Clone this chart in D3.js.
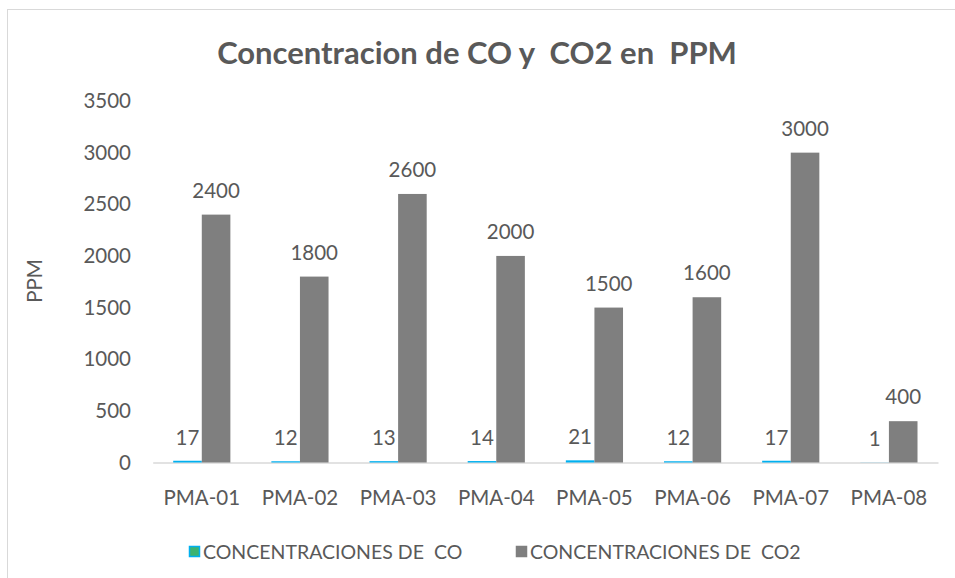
<!DOCTYPE html>
<html>
<head>
<meta charset="utf-8">
<script src="https://cdn.jsdelivr.net/npm/d3@7"></script>
<style>
  html, body { margin: 0; padding: 0; background: #fff; }
  svg { display: block; font-family: Lato, "Open Sans", sans-serif; }
</style>
</head>
<body>
<div id="chart"></div>
<script>
var categories = ['PMA-01', 'PMA-02', 'PMA-03', 'PMA-04', 'PMA-05', 'PMA-06', 'PMA-07', 'PMA-08'];
var coValues = [17, 12, 13, 14, 21, 12, 17, 1];
var co2Values = [2400, 1800, 2600, 2000, 1500, 1600, 3000, 400];
var yTicks = [0, 500, 1000, 1500, 2000, 2500, 3000, 3500];
var seriesNames = ['CONCENTRACIONES DE  CO', 'CONCENTRACIONES DE  CO2'];

function main() {

(function () {
    'use strict';

    var width = 955, height = 578;
    var textColor = '#595959';
    var fontSize = 20.5;

    var svg = d3.select('#chart').append('svg')
        .attr('width', width)
        .attr('height', height);

    // chart area border (only top and left show in the picture)
    svg.append('rect')
        .attr('x', 7.5).attr('y', 9.5)
        .attr('width', width + 20).attr('height', height + 20)
        .attr('fill', '#fff')
        .attr('stroke', '#d9d9d9')
        .attr('stroke-width', 1);

    /*====================================
    Scales
    ======================================*/

    var x = d3.scaleBand()
        .domain(categories)
        .range([152.7, 938])
        .paddingInner(0.4175)
        .paddingOuter(0.2088);

    var x1 = d3.scaleBand()
        .domain(['co', 'co2'])
        .range([0, x.bandwidth()]);

    var y = d3.scaleLinear()
        .domain([0, 3500])
        .range([462.5, 101]);

    /*====================================
    Title
    ======================================*/

    svg.append('text')
        .attr('x', 477)
        .attr('y', 64)
        .attr('text-anchor', 'middle')
        .attr('font-size', 31)
        .attr('font-weight', 'bold')
        .attr('fill', textColor)
        .style('white-space', 'pre')
        .text('Concentracion de CO y  CO2 en  PPM');

    /*====================================
    Axes
    ======================================*/

    var yAxis = svg.append('g')
        .attr('transform', 'translate(131,0)')
        .call(d3.axisLeft(y).tickValues(yTicks).tickFormat(d3.format('d')).tickSize(0).tickPadding(0));
    yAxis.select('.domain').remove();
    yAxis.selectAll('text')
        .attr('font-size', fontSize)
        .attr('fill', textColor)
        .attr('font-family', 'Lato, sans-serif');

    svg.append('text')
        .attr('transform', 'translate(42,281) rotate(-90)')
        .attr('text-anchor', 'middle')
        .attr('font-size', fontSize)
        .attr('fill', textColor)
        .text('PPM');

    var xAxis = svg.append('g')
        .attr('transform', 'translate(0,' + y(0) + ')')
        .call(d3.axisBottom(x).tickSize(0).tickPadding(28));
    xAxis.select('.domain')
        .attr('stroke', '#d9d9d9')
        .attr('stroke-width', 1.5);
    xAxis.selectAll('text')
        .attr('font-size', fontSize)
        .attr('fill', textColor)
        .attr('font-family', 'Lato, sans-serif');

    /*====================================
    Bars
    ======================================*/

    var groups = svg.selectAll('g.cat')
        .data(categories)
        .enter()
        .append('g')
        .attr('class', 'cat')
        .attr('transform', function (d) { return 'translate(' + x(d) + ',0)'; });

    groups.append('rect')
        .attr('x', x1('co'))
        .attr('width', x1.bandwidth())
        .attr('y', function (d, i) { return y(coValues[i]); })
        .attr('height', function (d, i) { return y(0) - y(coValues[i]); })
        .attr('fill', '#00b0f0');

    groups.append('rect')
        .attr('x', x1('co2'))
        .attr('width', x1.bandwidth())
        .attr('y', function (d, i) { return y(co2Values[i]); })
        .attr('height', function (d, i) { return y(0) - y(co2Values[i]); })
        .attr('fill', '#7f7f7f');

    // data labels
    groups.append('text')
        .attr('x', x1('co') + x1.bandwidth() / 2)
        .attr('y', function (d, i) { return y(coValues[i]) - 16; })
        .attr('text-anchor', 'middle')
        .attr('font-size', fontSize)
        .attr('fill', textColor)
        .text(function (d, i) { return coValues[i]; });

    groups.append('text')
        .attr('x', x1('co2') + x1.bandwidth() / 2)
        .attr('y', function (d, i) { return y(co2Values[i]) - 17; })
        .attr('text-anchor', 'middle')
        .attr('font-size', fontSize)
        .attr('fill', textColor)
        .text(function (d, i) { return co2Values[i]; });

    /*====================================
    Legend
    ======================================*/

    var legendX = [189, 516];
    var legend = svg.selectAll('g.legend')
        .data(seriesNames)
        .enter()
        .append('g')
        .attr('class', 'legend')
        .attr('transform', function (d, i) { return 'translate(' + legendX[i] + ',552)'; });

    legend.append('rect')
        .attr('x', 0.5).attr('y', -5.5)
        .attr('width', 10).attr('height', 10)
        .attr('fill', function (d, i) { return i === 0 ? '#3cb371' : '#7f7f7f'; })
        .attr('stroke', function (d, i) { return i === 0 ? '#00b0f0' : '#7f7f7f'; })
        .attr('stroke-width', 1.5);

    legend.append('text')
        .attr('x', 14)
        .attr('y', 7)
        .attr('font-size', 19.5)
        .attr('fill', textColor)
        .style('white-space', 'pre')
        .text(function (d) { return d; });

}());
}
main();
</script>
</body>
</html>
